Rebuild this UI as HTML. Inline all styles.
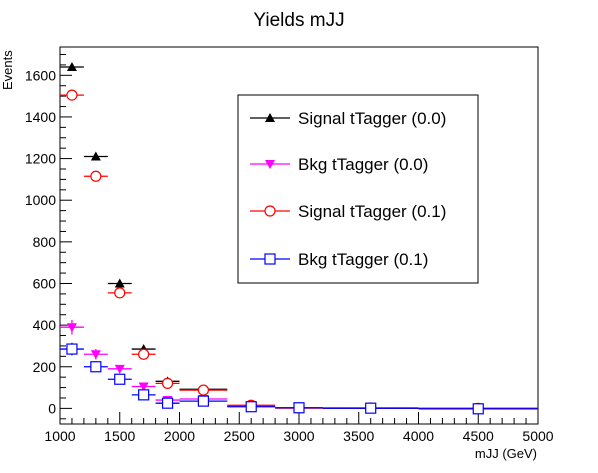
<!DOCTYPE html>
<html><head><meta charset="utf-8"><style>
html,body{margin:0;padding:0;background:#fff;}
svg{display:block;font-family:"Liberation Sans",Arial,sans-serif;}
</style></head><body>
<svg id="chart" width="598" height="473" viewBox="0 0 598 473">
<rect x="0" y="0" width="598" height="473" fill="#fff"/>
<text x="299" y="26" text-anchor="middle" font-size="19">Yields mJJ</text>
<text transform="translate(12,90) rotate(-90)" font-size="13" text-anchor="start">Events</text>
<text x="537" y="458" font-size="13" text-anchor="end">mJJ (GeV)</text>
<g id="axes"></g>
<g id="series"></g>
<g id="legend"></g>
</svg>
<script>
const binEdges=[1000,1200,1400,1600,1800,2000,2400,2800,3200,4000,5000];
const sigT0=[1640,1210,600,285,130,92,10,2,1,0];
const sigT0Err=[12,10,8,6,5,4,2,1,1,0];
const bkgT0=[390,260,190,105,40,45,10,2,2,0];
const bkgT0Err=[35,25,18,12,7,7,3,1,1,0];
const sigT1=[1505,1115,555,260,120,88,15,2,2,0];
const sigT1Err=[10,9,7,6,5,4,2,1,1,0];
const bkgT1=[285,200,140,65,25,35,8,3,1,-2];
const bkgT1Err=[30,22,15,9,6,6,3,2,1,1];
const xTicks=[1000,1500,2000,2500,3000,3500,4000,4500,5000];
const yTicks=[0,200,400,600,800,1000,1200,1400,1600];
const legendLabels=["Signal tTagger (0.0)","Bkg tTagger (0.0)","Signal tTagger (0.1)","Bkg tTagger (0.1)"];

const L=60,R=538,T=47,B=424, xMin=1000,xMax=5000,yMin=-75,yMax=1736;
const X=v=>L+(v-xMin)/(xMax-xMin)*(R-L);
const Y=v=>B-(v-yMin)/(yMax-yMin)*(B-T);
const NS="http://www.w3.org/2000/svg";
function mk(tag,attrs,parent){const e=document.createElementNS(NS,tag);for(const k in attrs)e.setAttribute(k,attrs[k]);parent.appendChild(e);return e;}
const axes=document.getElementById('axes');
let fr=mk('rect',{x:L,y:T,width:R-L,height:B-T,fill:'none',stroke:'#000','stroke-width':1},axes);


for(let v=xMin;v<=xMax;v+=100){
  const major=v%500===0;
  let t=mk('line',{x1:X(v),x2:X(v),y1:B,y2:B-(major?12:6),stroke:'#000'},axes);
  
  
}
xTicks.forEach(v=>{let t=mk('text',{x:X(v),y:B+17,'font-size':14,'text-anchor':'middle'},axes);t.textContent=v;
  
  });
for(let v=-50;v<=1700;v+=50){
  const major=v%200===0;
  let t=mk('line',{x1:L,x2:L+(major?12:6),y1:Y(v),y2:Y(v),stroke:'#000'},axes);
  
  
}
yTicks.forEach(v=>{let t=mk('text',{x:L-4,y:Y(v)+5,'font-size':14,'text-anchor':'end'},axes);t.textContent=v;
  
  });

function marker(parent,type,cx,cy,color){
  let e;
  if(type==='tri'){e=mk('polygon',{points:`${cx},${cy-5} ${cx-5},${cy+4} ${cx+5},${cy+4}`,fill:color},parent);}
  else if(type==='itri'){e=mk('polygon',{points:`${cx},${cy+5} ${cx-5},${cy-4} ${cx+5},${cy-4}`,fill:color},parent);}
  else if(type==='circ'){e=mk('circle',{cx:cx,cy:cy,r:5,fill:'#fff',stroke:color,'stroke-width':1.2},parent);}
  else {e=mk('rect',{x:cx-5,y:cy-5,width:10,height:10,fill:'#fff',stroke:color,'stroke-width':1.2},parent);}
  return e;
}
const series=[
 {vals:sigT0,errs:sigT0Err,color:'#000',m:'tri',name:'signal-ttagger-0'},
 {vals:bkgT0,errs:bkgT0Err,color:'#f0f',m:'itri',name:'bkg-ttagger-0'},
 {vals:sigT1,errs:sigT1Err,color:'#f00',m:'circ',name:'signal-ttagger-1'},
 {vals:bkgT1,errs:bkgT1Err,color:'#00f',m:'sq',name:'bkg-ttagger-1'}];
const sg=document.getElementById('series');
series.forEach(s=>{
  const g=mk('g',{},sg);
  
  
  s.vals.forEach((v,i)=>{
    const x0=X(binEdges[i]),x1=X(binEdges[i+1]),cx=(x0+x1)/2,cy=Y(v);
    mk('line',{x1:x0,x2:x1,y1:cy,y2:cy,stroke:s.color,'stroke-width':1.3},g);
    if(s.errs[i]>0)mk('line',{x1:cx,x2:cx,y1:Y(v+s.errs[i]),y2:Y(v-s.errs[i]),stroke:s.color,'stroke-width':1.3},g);
    const p=marker(g,s.m,cx,cy,s.color);
    
    
  });
});
const lg=document.getElementById('legend');
let lb=mk('rect',{x:238,y:95,width:240,height:188,fill:'#fff',stroke:'#000'},lg);


const ly=[118,164,211,259];
series.forEach((s,i)=>{
  const g=mk('g',{},lg);
  
  
  mk('line',{x1:250,x2:290,y1:ly[i],y2:ly[i],stroke:s.color,'stroke-width':1.3},g);
  marker(g,s.m,270,ly[i],s.color);
  const t=mk('text',{x:298,y:ly[i]+6,'font-size':17},g);t.textContent=legendLabels[i];
});
</script>
</body></html>
